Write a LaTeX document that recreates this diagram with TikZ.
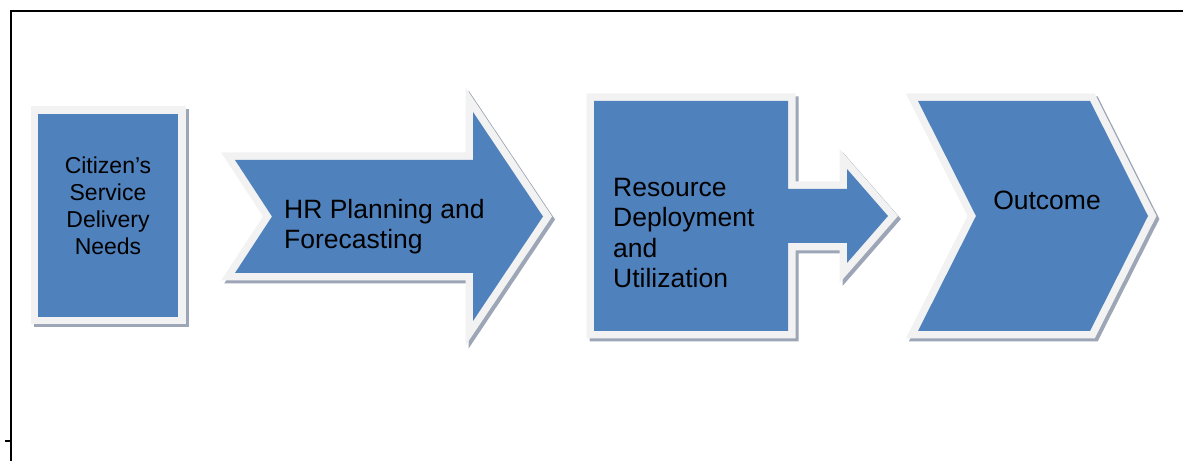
\documentclass[tikz,border=0pt]{standalone}
\usepackage{fontspec}
\setmainfont{Liberation Sans}
\definecolor{stageblue}{HTML}{4F81BD}
\definecolor{rimgray}{HTML}{F2F2F2}
\definecolor{shadowgray}{RGB}{156,166,182}

\begin{document}
\begin{tikzpicture}[x=1bp,y=-1bp]
\tikzstyle{stageshape}=[fill=stageblue, line join=miter,
  preaction={draw=shadowgray, line width=15bp, transform canvas={xshift=3bp,yshift=-3bp}},
  preaction={draw=rimgray, line width=15bp}]
\tikzstyle{stagetext}=[inner sep=0pt, text=black, font=\fontsize{26.5bp}{30.5bp}\selectfont]
\useasboundingbox (0,0) rectangle (1183,461);
  % frame
  \draw[line width=2bp] (10.5,461) -- (10.5,11.5) -- (1183,11.5);
  \draw[line width=1.5bp] (5,441) -- (10.5,441);
  % stages
  \path[stageshape] (38,114) rectangle (178,317);
  \path[stageshape] (235,160) -- (473,160) -- (473,112) -- (543,216.5) -- (473,321)
        -- (473,273) -- (235,273) -- (272,216.5) -- cycle;
  \path[stageshape] (594,101) -- (788,101) -- (788,189) -- (847,189) -- (847,169)
        -- (888,216) -- (847,263) -- (847,243) -- (788,243) -- (788,331) -- (594,331) -- cycle;
  \path[stageshape] (918,101) -- (1090,101) -- (1148,216) -- (1090,331) -- (918,331)
        -- (976,216) -- cycle;
  % texts
  \node[stagetext, align=center, font=\fontsize{23bp}{27bp}\selectfont] (Needs) at (108,206)
        {Citizen’s\\Service\\Delivery\\Needs};
  \node[stagetext, align=left, anchor=west] (Planning) at (284,226.5)
        {HR Planning and\\Forecasting};
  \node[stagetext, align=left, anchor=west] (Deployment) at (613,233)
        {Resource\\Deployment\\and\\Utilization};
  \node[stagetext] (Outcome) at (1047,200) {Outcome};
\end{tikzpicture}
\end{document}
